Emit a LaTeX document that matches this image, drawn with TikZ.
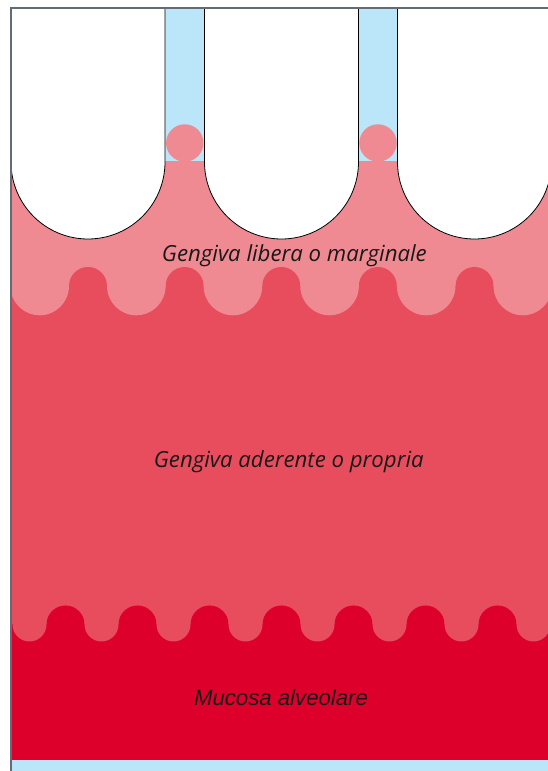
\documentclass[tikz,border=0pt]{standalone}
\usepackage{fontspec}
\usepackage{xcolor}
\usepackage{tikz}
\newfontfamily\gumfont{Open Sans}
\newfontfamily\mucfont{Liberation Sans}
\definecolor{skyblue}{HTML}{BBE5F9}
\definecolor{gumpale}{HTML}{F08A92}
\definecolor{gumred}{HTML}{E84D5E}
\definecolor{mucred}{HTML}{DC002B}
\definecolor{rimgray}{HTML}{636C74}

\begin{document}
\begin{tikzpicture}[x=1pt, y=1pt,
    tooth/.style={draw=black, line width=0.8pt, fill=white},
    layertext/.style={font=\gumfont\itshape\fontsize{22.2}{26}\selectfont, text=black!90, inner sep=0pt, anchor=base},
    muctext/.style={layertext, font=\mucfont\itshape\fontsize{22.2}{26}\selectfont}
]
\useasboundingbox (0,0) rectangle (548,771);
\begin{scope}
\clip (11,0) rectangle (548,762);
\fill[skyblue] (11,0) rectangle (548,762);
% three bands, bottom to top
\fill[mucred] (11,11) rectangle (548,146.5);
\fill[gumred] (11,146.5) rectangle (548,485);
\fill[gumpale] (11,485) rectangle (548,610);
% scalloped borders between the bands
\foreach \i in {0,...,4}
  \fill[gumred] (88+96.625*\i,485) circle (19);
\foreach \i in {0,...,5}
  \fill[gumpale] (39.69+96.625*\i,485) circle (29.3);
\foreach \i in {0,...,6}
  \fill[mucred] (65.5+72*\i,146.5) circle (19);
\foreach \i in {0,...,7}
  \fill[gumred] (29.5+72*\i,146.5) circle (17);
% papillae in the gaps
\fill[gumpale] (184.75,628) circle (18.7);
\fill[gumpale] (378,628) circle (18.7);
% teeth
\foreach \x in {11,204.5,397.5}
  \draw[tooth] (\x,763) -- (\x,609) arc (180:360:77) -- (\x+154,763);
\end{scope}
\draw[rimgray, line width=2pt] (11,0) -- (11,762.5) -- (548,762.5);
\node[layertext] (libera) at (294.4,509.7) {Gengiva libera o marginale};
\node[layertext] (aderente) at (288.8,303.3) {Gengiva aderente o propria};
\node[muctext] (mucosa) at (281,65) {Mucosa alveolare};
\end{tikzpicture}
\end{document}
